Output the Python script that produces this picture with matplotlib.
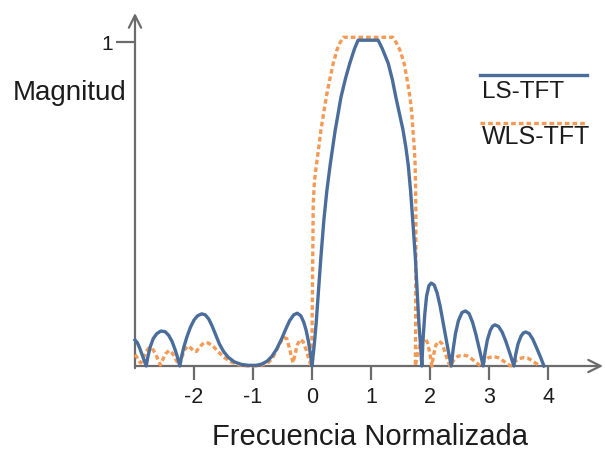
import matplotlib.pyplot as plt

plt.rcParams['font.family'] = ['Liberation Sans', 'DejaVu Sans']

# respuesta LS-TFT (magnitud vs frecuencia normalizada)
freq_ls = [-3.0, -2.96, -2.92, -2.87, -2.81,
           -2.78, -2.74, -2.69, -2.63, -2.56, -2.49, -2.43, -2.37, -2.32,
           -2.28, -2.24,
           -2.21, -2.17, -2.12, -2.06, -2.0, -1.94, -1.87, -1.81, -1.75,
           -1.69, -1.63, -1.57, -1.5, -1.42, -1.32, -1.2, -1.08, -0.95,
           -0.85, -0.76, -0.68, -0.6, -0.52, -0.45, -0.38, -0.31, -0.25,
           -0.19, -0.14, -0.10, -0.06, -0.03, 0.0,
           0.04, 0.07, 0.11, 0.15, 0.20, 0.25, 0.31, 0.39, 0.49, 0.57,
           0.64, 0.72, 0.78, 1.12, 1.19, 1.29, 1.36, 1.42, 1.48, 1.54,
           1.59, 1.63, 1.67, 1.71, 1.75, 1.78, 1.81, 1.84, 1.86,
           1.88, 1.91, 1.94, 1.98, 2.02, 2.07, 2.12, 2.17, 2.22, 2.27,
           2.31, 2.36,
           2.39, 2.43, 2.48, 2.54, 2.60, 2.66, 2.72, 2.78, 2.84, 2.90,
           2.93, 2.97, 3.02, 3.06, 3.10, 3.16, 3.22, 3.28, 3.35, 3.42,
           3.45, 3.49, 3.54, 3.58, 3.62, 3.68, 3.74, 3.80, 3.87, 3.93]
mag_ls = [0.08, 0.072, 0.055, 0.03, 0.0,
          0.03, 0.06, 0.085, 0.1, 0.108, 0.106, 0.095, 0.075, 0.05,
          0.027, 0.0,
          0.03, 0.06, 0.09, 0.12, 0.142, 0.155, 0.161, 0.158, 0.145,
          0.122, 0.095, 0.068, 0.045, 0.027, 0.013, 0.005, 0.002, 0.002,
          0.006, 0.015, 0.03, 0.052, 0.082, 0.112, 0.14, 0.158, 0.163,
          0.155, 0.135, 0.11, 0.075, 0.04, 0.0,
          0.07, 0.133, 0.235, 0.336, 0.45, 0.54, 0.625, 0.725, 0.83, 0.89,
          0.935, 0.98, 1.006, 1.006, 0.98, 0.935, 0.885, 0.83, 0.78, 0.73,
          0.675, 0.62, 0.54, 0.44, 0.336, 0.235, 0.133, 0.06, 0.0,
          0.08, 0.16, 0.215, 0.248, 0.256, 0.25, 0.225, 0.185, 0.135, 0.085,
          0.045, 0.0,
          0.05, 0.1, 0.14, 0.165, 0.17, 0.162, 0.135, 0.095, 0.048, 0.0,
          0.04, 0.08, 0.11, 0.123, 0.127, 0.122, 0.105, 0.078, 0.04, 0.0,
          0.035, 0.068, 0.092, 0.102, 0.105, 0.1, 0.083, 0.058, 0.028, 0.0]

# respuesta WLS-TFT
freq_wls = [-3.0, -2.96, -2.92, -2.9, -2.86, -2.81, -2.76, -2.71, -2.66,
            -2.61, -2.57, -2.53, -2.48, -2.42, -2.37, -2.31, -2.25, -2.21,
            -2.16, -2.10, -2.05, -2.0, -1.96, -1.9, -1.83, -1.76, -1.68,
            -1.6, -1.5, -1.38, -1.25, -1.1, -0.95, -0.83, -0.73, -0.66,
            -0.6, -0.54, -0.48, -0.43, -0.39, -0.35, -0.32, -0.29, -0.25,
            -0.2, -0.15, -0.1, -0.05, -0.02,
            0.0, 0.01, 0.02, 0.04, 0.07, 0.11, 0.15, 0.2, 0.24, 0.3, 0.36,
            0.42, 0.47, 0.53, 1.37, 1.43, 1.49, 1.56, 1.61, 1.66, 1.69,
            1.71, 1.73, 1.745, 1.755, 1.76, 1.758, 1.755, 1.75,
            1.78, 1.82, 1.87, 1.92, 1.96, 2.0, 2.03, 2.06, 2.1, 2.15, 2.2,
            2.25, 2.3, 2.34, 2.4, 2.47, 2.55, 2.63, 2.72, 2.8, 2.86, 2.92,
            2.99, 3.07, 3.15, 3.23, 3.31, 3.37, 3.43, 3.5, 3.58, 3.66,
            3.74, 3.81, 3.86]
mag_wls = [0.035, 0.025, 0.012, 0.01, 0.025, 0.045, 0.056, 0.055, 0.04,
           0.02, 0.003, 0.02, 0.038, 0.048, 0.04, 0.02, 0.003, 0.025,
           0.05, 0.062, 0.055, 0.045, 0.045, 0.06, 0.072, 0.071, 0.062,
           0.046, 0.028, 0.013, 0.004, 0.0, 0.0, 0.004, 0.012, 0.028,
           0.05, 0.072, 0.088, 0.085, 0.06, 0.03, 0.01, 0.035, 0.065,
           0.082, 0.075, 0.05, 0.02, 0.0,
           0.1, 0.3, 0.5, 0.57, 0.615, 0.67, 0.728, 0.785, 0.83, 0.885,
           0.935, 0.975, 0.997, 1.015, 1.015, 0.997, 0.975, 0.935, 0.885,
           0.83, 0.78, 0.728, 0.68, 0.627, 0.55, 0.45, 0.3, 0.1, 0.0,
           0.03, 0.06, 0.08, 0.086, 0.07, 0.035, 0.0, 0.035, 0.065, 0.077,
           0.07, 0.045, 0.015, 0.0, 0.018, 0.03, 0.034, 0.031, 0.02, 0.008,
           0.0, 0.015, 0.026, 0.029, 0.026, 0.017, 0.007, 0.0, 0.013,
           0.022, 0.026, 0.024, 0.015, 0.006, 0.0]

xticks = [-2, -1, 0, 1, 2, 3, 4]
yticks = [1]
series_names = ['LS-TFT', 'WLS-TFT']

blue = '#4a6d9c'
orange = '#f59a55'
axis_color = '#6b6b6b'
text_color = '#1c1c1c'

W, H = 605, 451
fig = plt.figure(figsize=(W / 100, H / 100), dpi=100)
ax = fig.add_axes([135 / W, 85 / H, 468 / W, 353 / H])
ax.set_xlim(-3, 4.93)
ax.set_ylim(0, 1.09)
for s in ax.spines.values():
    s.set_visible(False)

ax.plot(freq_wls, mag_wls, color=orange, lw=2.4, dashes=(1.4, 0.9),
        clip_on=False, zorder=2)
ax.plot(freq_ls, mag_ls, color=blue, lw=2.4, clip_on=False, zorder=3,
        solid_joinstyle='round')

# ejes con flecha
arrow = dict(arrowstyle='->', lw=1.6, color=axis_color, mutation_scale=22,
             shrinkA=0, shrinkB=0)
ax.annotate('', xy=(1.0, 0), xytext=(0, 0), xycoords='axes fraction',
            arrowprops=arrow, zorder=1)
ax.annotate('', xy=(0, 1.0), xytext=(0, -0.006), xycoords='axes fraction',
            arrowprops=arrow, zorder=1)

ax.set_xticks(xticks)
ax.set_xticklabels([str(t) for t in xticks])
ax.set_yticks(yticks)
ax.set_yticklabels([str(t) for t in yticks])
ax.tick_params(axis='x', direction='out', length=10, width=1.6,
               color=axis_color, labelsize=15.5, labelcolor=text_color, pad=5)
ax.tick_params(axis='y', direction='out', length=14, width=1.6,
               color=axis_color, labelsize=15, labelcolor=text_color, pad=2)

fig.text(70 / W, 1 - 93 / H, 'Magnitud', ha='center', va='center',
         fontsize=20, color=text_color)
fig.text(370 / W, 1 - 437 / H, 'Frecuencia Normalizada', ha='center',
         va='center', fontsize=21, color=text_color)

# leyenda: línea sobre el nombre de cada serie
ax.plot([0.737, 0.966], [0.824, 0.824], transform=ax.transAxes,
        color=blue, lw=2.4, clip_on=False)
ax.text(0.741, 0.776, series_names[0], transform=ax.transAxes,
        ha='left', va='center', fontsize=17.5, color=text_color)
ax.plot([0.737, 0.966], [0.688, 0.688], transform=ax.transAxes,
        color=orange, lw=2.4, dashes=(1.4, 0.9), clip_on=False)
ax.text(0.741, 0.649, series_names[1], transform=ax.transAxes,
        ha='left', va='center', fontsize=18, color=text_color)

fig.savefig('out.png', dpi=100, facecolor='white')
